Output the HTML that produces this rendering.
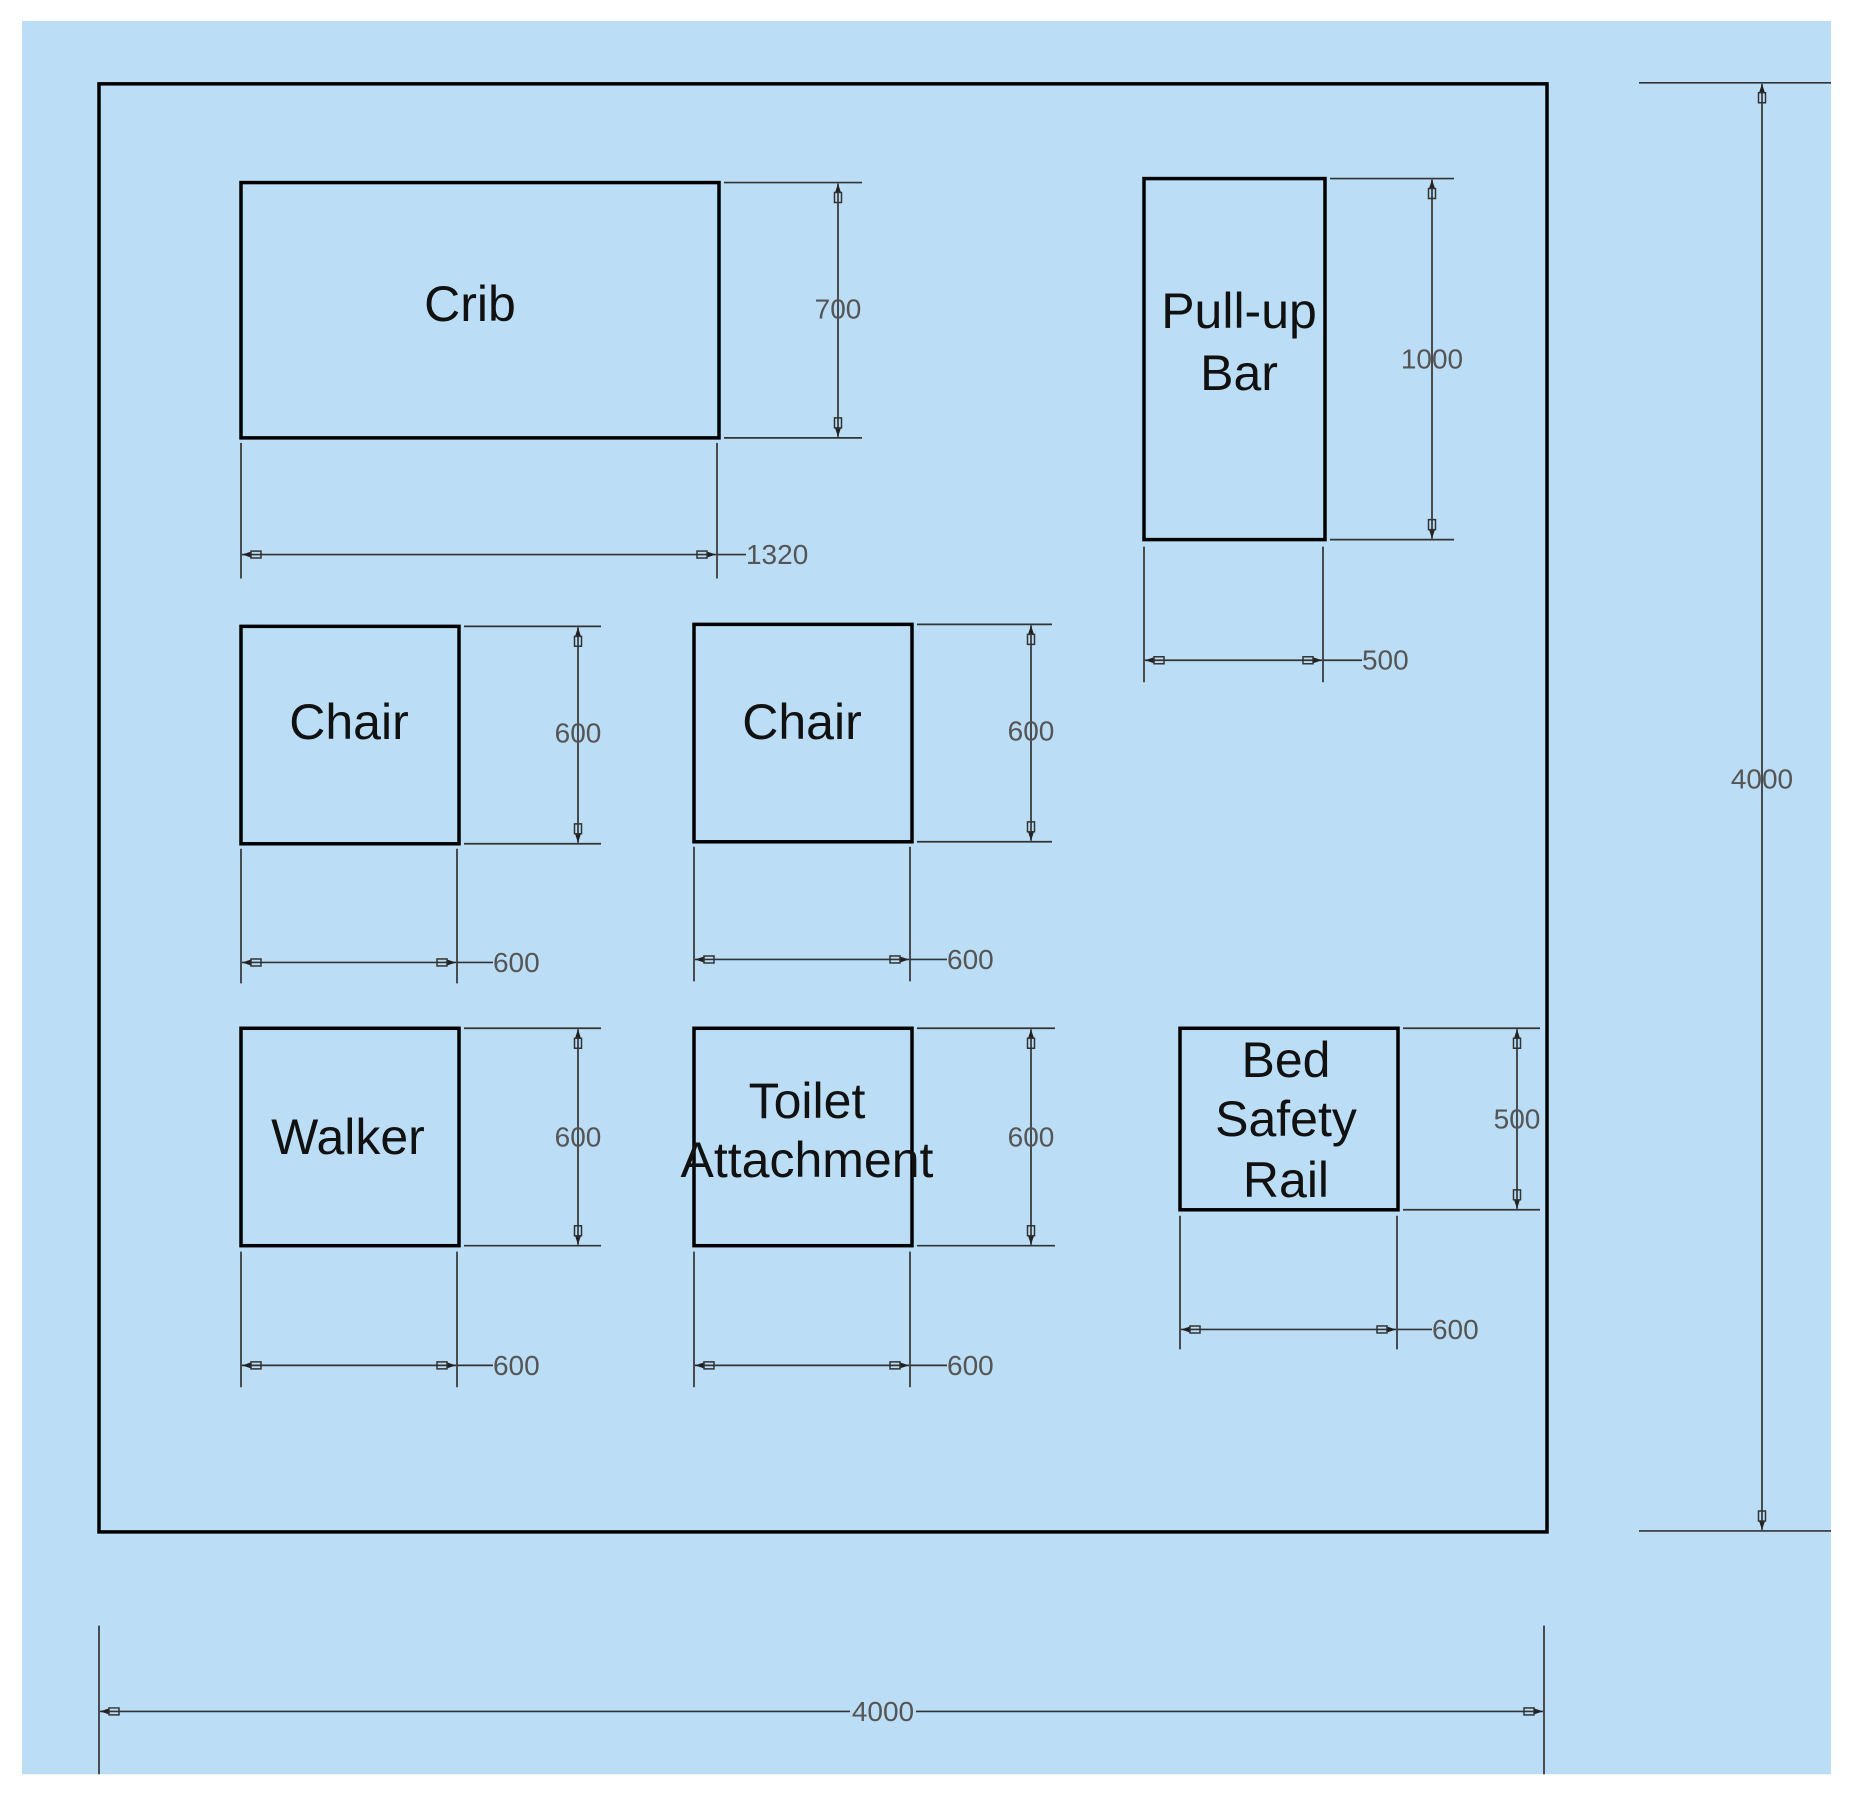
<!DOCTYPE html>
<html><head><meta charset="utf-8"><style>
html,body{margin:0;padding:0;background:#fff;}
svg{display:block;}
.b{fill:none;stroke:#000;stroke-width:3.5}
.d{stroke:#333;stroke-width:1.7;fill:none}
.t{font-family:"Liberation Sans",sans-serif;font-size:50px;fill:#111;text-anchor:middle}
.n{font-family:"Liberation Sans",sans-serif;font-size:28px;fill:#555;text-anchor:middle;dominant-baseline:central}
.nl{font-family:"Liberation Sans",sans-serif;font-size:28px;fill:#555;dominant-baseline:central}
</style></head><body>
<svg width="1850" height="1799" viewBox="0 0 1850 1799" xmlns="http://www.w3.org/2000/svg">
<defs>
<marker id="a" markerUnits="userSpaceOnUse" markerWidth="26" markerHeight="14" refX="0" refY="7" orient="auto-start-reverse" viewBox="-22 0 26 14">
<path d="M0 7 L-9 4 L-9 10 Z" fill="#222"/>
<rect x="-19" y="3.5" width="10" height="7" fill="none" stroke="#333" stroke-width="1.5"/>
</marker>
</defs>
<rect x="0" y="0" width="1850" height="1799" fill="#fff"/>
<g transform="matrix(1 0 0 0.9973 0 0.06)">
<rect x="22" y="21" width="1809" height="1758" fill="#bbdef6"/>
<rect class="b" x="99" y="84" width="1448" height="1452"/>

<rect class="b" x="241" y="183" width="478" height="256"/>
<text class="t" x="470" y="322">Crib</text>
<path class="d" d="M724 183H862M724 439H862"/>
<line class="d" x1="838" y1="184" x2="838" y2="438" marker-start="url(#a)" marker-end="url(#a)"/>
<text class="n" x="838" y="310">700</text>
<path class="d" d="M241 444V580M717 444V580"/>
<line class="d" x1="242" y1="556" x2="716" y2="556" marker-start="url(#a)" marker-end="url(#a)"/>
<path class="d" d="M717 556H746"/>
<text class="nl" x="746" y="556">1320</text>

<rect class="b" x="1144" y="179" width="181" height="362"/>
<text class="t" x="1239" y="329">Pull-up</text>
<text class="t" x="1239" y="391">Bar</text>
<path class="d" d="M1330 179H1454M1330 541H1454"/>
<line class="d" x1="1432" y1="180" x2="1432" y2="540" marker-start="url(#a)" marker-end="url(#a)"/>
<text class="n" x="1432" y="360">1000</text>
<path class="d" d="M1144 548V684M1323 548V684"/>
<line class="d" x1="1145" y1="662" x2="1322" y2="662" marker-start="url(#a)" marker-end="url(#a)"/>
<path class="d" d="M1323 662H1362"/>
<text class="nl" x="1362" y="662">500</text>

<rect class="b" x="241" y="628" width="218" height="218"/>
<text class="t" x="349" y="741">Chair</text>
<path class="d" d="M464 628H601M464 846H601"/>
<line class="d" x1="578" y1="629" x2="578" y2="845" marker-start="url(#a)" marker-end="url(#a)"/>
<text class="n" x="578" y="735">600</text>
<path class="d" d="M241 851V986M457 851V986"/>
<line class="d" x1="242" y1="965" x2="456" y2="965" marker-start="url(#a)" marker-end="url(#a)"/>
<path class="d" d="M457 965H493"/>
<text class="nl" x="493" y="965">600</text>

<rect class="b" x="694" y="626" width="218" height="218"/>
<text class="t" x="802" y="741">Chair</text>
<path class="d" d="M917 626H1052M917 844H1052"/>
<line class="d" x1="1031" y1="627" x2="1031" y2="843" marker-start="url(#a)" marker-end="url(#a)"/>
<text class="n" x="1031" y="733">600</text>
<path class="d" d="M694 849V984M910 849V984"/>
<line class="d" x1="695" y1="962" x2="909" y2="962" marker-start="url(#a)" marker-end="url(#a)"/>
<path class="d" d="M910 962H947"/>
<text class="nl" x="947" y="962">600</text>

<rect class="b" x="241" y="1031" width="218" height="218"/>
<text class="t" x="348" y="1157">Walker</text>
<path class="d" d="M464 1031H601M464 1249H601"/>
<line class="d" x1="578" y1="1032" x2="578" y2="1248" marker-start="url(#a)" marker-end="url(#a)"/>
<text class="n" x="578" y="1140">600</text>
<path class="d" d="M241 1255V1391M457 1255V1391"/>
<line class="d" x1="242" y1="1369" x2="456" y2="1369" marker-start="url(#a)" marker-end="url(#a)"/>
<path class="d" d="M457 1369H493"/>
<text class="nl" x="493" y="1369">600</text>

<rect class="b" x="694" y="1031" width="218" height="218"/>
<text class="t" x="807" y="1121">Toilet</text>
<text class="t" x="807" y="1180">Attachment</text>
<path class="d" d="M917 1031H1055M917 1249H1055"/>
<line class="d" x1="1031" y1="1032" x2="1031" y2="1248" marker-start="url(#a)" marker-end="url(#a)"/>
<text class="n" x="1031" y="1140">600</text>
<path class="d" d="M694 1255V1391M910 1255V1391"/>
<line class="d" x1="695" y1="1369" x2="909" y2="1369" marker-start="url(#a)" marker-end="url(#a)"/>
<path class="d" d="M910 1369H947"/>
<text class="nl" x="947" y="1369">600</text>

<rect class="b" x="1180" y="1031" width="218" height="182"/>
<text class="t" x="1286" y="1080">Bed</text>
<text class="t" x="1286" y="1139">Safety</text>
<text class="t" x="1286" y="1200">Rail</text>
<path class="d" d="M1403 1031H1540M1403 1213H1540"/>
<line class="d" x1="1517" y1="1032" x2="1517" y2="1212" marker-start="url(#a)" marker-end="url(#a)"/>
<text class="n" x="1517" y="1122">500</text>
<path class="d" d="M1180 1219V1353M1397 1219V1353"/>
<line class="d" x1="1181" y1="1333" x2="1396" y2="1333" marker-start="url(#a)" marker-end="url(#a)"/>
<path class="d" d="M1397 1333H1432"/>
<text class="nl" x="1432" y="1333">600</text>

<path class="d" d="M1639 83H1831M1639 1535H1831"/>
<line class="d" x1="1762" y1="84" x2="1762" y2="1534" marker-start="url(#a)" marker-end="url(#a)"/>
<text class="n" x="1762" y="781">4000</text>

<path class="d" d="M99 1630V1779M1544 1630V1779"/>
<line class="d" x1="100" y1="1716" x2="850" y2="1716" marker-start="url(#a)"/>
<line class="d" x1="916" y1="1716" x2="1543" y2="1716" marker-end="url(#a)"/>
<text class="n" x="883" y="1716">4000</text>
</g>
</svg>
</body></html>
